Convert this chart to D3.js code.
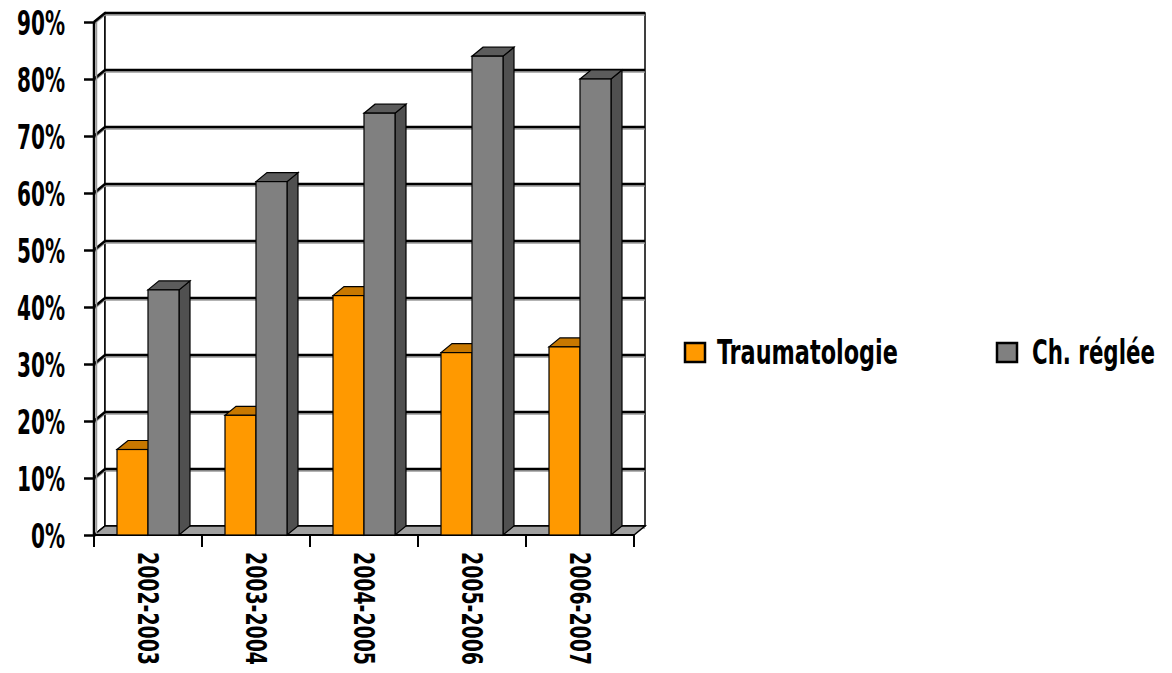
<!DOCTYPE html>
<html>
<head>
<meta charset="utf-8">
<script src="https://cdn.jsdelivr.net/npm/d3@7"></script>
<style>
  html, body { margin: 0; padding: 0; background: #fff; }
  svg { display: block; }
  text { font-family: "Liberation Sans Narrow", "DejaVu Sans Condensed", sans-serif; font-weight: bold; fill: #000; }
</style>
</head>
<body>
<div id="chart"></div>
<script>
// data
const categories = ["2002-2003", "2003-2004", "2004-2005", "2005-2006", "2006-2007"];
const seriesNames = ["Traumatologie", "Ch. réglée"];
const traumatologie = [0.15, 0.21, 0.42, 0.32, 0.33];
const chReglee = [0.43, 0.62, 0.74, 0.84, 0.80];
const yTicks = [0, 0.1, 0.2, 0.3, 0.4, 0.5, 0.6, 0.7, 0.8, 0.9];

const W = 1172, H = 673;
const DX = 11, DY = -9; // depth offset of the 3d box

const colors = {
  "Traumatologie": { front: "#ff9900", top: "#c87800", side: "#a86400" },
  "Ch. réglée": { front: "#808080", top: "#5c5c5c", side: "#505050" }
};

const svg = d3.select("#chart").append("svg")
  .attr("width", W).attr("height", H);

const x = d3.scaleBand().domain(categories).range([94, 634])
  .paddingInner(0.426).paddingOuter(0.213);
const xs = d3.scaleBand().domain(seriesNames).range([0, x.bandwidth()]);
const y = d3.scaleLinear().domain([0, 0.9]).range([535, 22]);

const x0 = 94, x1 = 634;
const pts = p => p.map(d => d.join(",")).join(" ");

// walls
svg.append("polygon") // left wall
  .attr("points", pts([[x0, y(0)], [x0, y(0.9)], [x0 + DX, y(0.9) + DY], [x0 + DX, y(0) + DY]]))
  .attr("fill", "#fff").attr("stroke", "#000").attr("stroke-width", 1.5);
svg.append("rect") // back wall
  .attr("x", x0 + DX).attr("y", y(0.9) + DY)
  .attr("width", x1 - x0).attr("height", y(0) - y(0.9))
  .attr("fill", "#fff").attr("stroke", "#000").attr("stroke-width", 1.5);

// gridlines (back wall + left wall part)
const grid = svg.append("g");
yTicks.forEach(t => {
  const yy = y(t);
  grid.append("polyline")
    .attr("points", pts([[x0, yy + 2], [x0 + DX, yy + DY + 2], [x1 + DX, yy + DY + 2]]))
    .attr("fill", "none").attr("stroke", "#9a9a9a").attr("stroke-width", 1.5);
  grid.append("polyline")
    .attr("points", pts([[x0, yy], [x0 + DX, yy + DY], [x1 + DX, yy + DY]]))
    .attr("fill", "none").attr("stroke", "#000").attr("stroke-width", t === 0 ? 1.5 : 2.5);
});

// floor
svg.append("polygon")
  .attr("points", pts([[x0, y(0)], [x1, y(0)], [x1 + DX, y(0) + DY], [x0 + DX, y(0) + DY]]))
  .attr("fill", "#a0a0a0").attr("stroke", "#000").attr("stroke-width", 1.5);

// front axis line + ticks
svg.append("line")
  .attr("x1", x0 + 2.5).attr("x2", x0 + 2.5).attr("y1", y(0.9)).attr("y2", y(0))
  .attr("stroke", "#9a9a9a").attr("stroke-width", 1.5);
svg.append("line")
  .attr("x1", x0).attr("x2", x0).attr("y1", y(0.9)).attr("y2", y(0) + 1)
  .attr("stroke", "#000").attr("stroke-width", 2.5);
svg.append("line")
  .attr("x1", x0).attr("x2", x1).attr("y1", y(0)).attr("y2", y(0))
  .attr("stroke", "#000").attr("stroke-width", 2);

const yAxis = d3.axisLeft(y).tickValues(yTicks).tickSize(10).tickFormat(d3.format(".0%"));
const gy = svg.append("g").attr("transform", `translate(${x0},0)`).call(yAxis);
gy.select(".domain").remove();
gy.selectAll(".tick line").attr("stroke", "#000").attr("stroke-width", 2.5);
const yLabels = gy.selectAll(".tick text")
  .attr("x", null).attr("dy", null)
  .attr("text-anchor", "end")
  .attr("font-size", 33);
// squeeze labels so "90%" is about 48px wide, as in the picture
const natural = d3.max(yLabels.nodes(), n => n.getComputedTextLength());
const sx = 48 / natural;
yLabels.attr("transform", `translate(-29,12) scale(${sx},1)`);

// category ticks + labels
const bounds = categories.map((c, i) => x0 + i * x.step()).concat([x1]);
svg.append("g").selectAll("line").data(bounds).join("line")
  .attr("x1", d => d).attr("x2", d => d).attr("y1", y(0)).attr("y2", y(0) + 12)
  .attr("stroke", "#000").attr("stroke-width", 2);

const xLabels = svg.append("g").selectAll("text").data(categories).join("text")
  .attr("dy", "0.36em")
  .attr("font-size", 28)
  .text(d => d);
xLabels.attr("transform", function(d) {
  const k = 113 / this.getComputedTextLength();
  return `translate(${x(d) + x.bandwidth() / 2},552) rotate(90) scale(${k},1)`;
});

// bars
const series = [
  { name: "Traumatologie", values: traumatologie },
  { name: "Ch. réglée", values: chReglee }
];
const bars = svg.append("g");
categories.forEach((c, i) => {
  series.forEach(s => {
    const bx = x(c) + xs(s.name), bw = xs.bandwidth();
    const top = y(s.values[i]), bot = y(0);
    const col = colors[s.name];
    const g = bars.append("g");
    g.append("polygon") // side
      .attr("points", pts([[bx + bw, bot], [bx + bw, top], [bx + bw + DX, top + DY], [bx + bw + DX, bot + DY]]))
      .attr("fill", col.side).attr("stroke", "#000").attr("stroke-width", 1.2);
    g.append("polygon") // top
      .attr("points", pts([[bx, top], [bx + bw, top], [bx + bw + DX, top + DY], [bx + DX, top + DY]]))
      .attr("fill", col.top).attr("stroke", "#000").attr("stroke-width", 1.2);
    g.append("rect") // front
      .attr("x", bx).attr("y", top).attr("width", bw).attr("height", bot - top)
      .attr("fill", col.front).attr("stroke", "#000").attr("stroke-width", 1.2);
  });
});

// legend
const legend = svg.append("g");
const legendPos = [
  { name: "Traumatologie", sx: 685, tx: 717, len: 181 },
  { name: "Ch. réglée", sx: 997, tx: 1032, len: 123 }
];
legendPos.forEach(l => {
  legend.append("rect")
    .attr("x", l.sx).attr("y", 343).attr("width", 20).attr("height", 19)
    .attr("fill", colors[l.name].front).attr("stroke", "#000").attr("stroke-width", 2.5);
  const t = legend.append("text")
    .attr("font-size", 34)
    .text(l.name);
  const k = l.len / t.node().getComputedTextLength();
  t.attr("transform", `translate(${l.tx},364) scale(${k},1)`);
});
</script>
</body>
</html>
